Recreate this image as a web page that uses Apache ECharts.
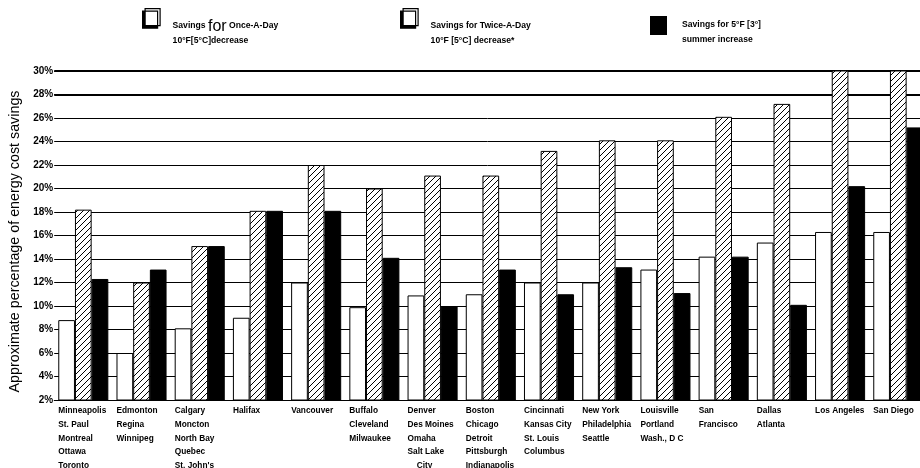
<!DOCTYPE html>
<html><head><meta charset="utf-8">
<script src="https://cdn.jsdelivr.net/npm/echarts/dist/echarts.min.js"></script>
<style>html,body{margin:0;padding:0;background:#fff}#c{width:920px;height:468px}</style>
</head><body><div id="c"></div>
<script>
// ---- data ----
const categories = [
  'Minneapolis\nSt. Paul\nMontreal\nOttawa\nToronto',
  'Edmonton\nRegina\nWinnipeg',
  "Calgary\nMoncton\nNorth Bay\nQuebec\nSt. John's",
  'Halifax',
  'Vancouver',
  'Buffalo\nCleveland\nMilwaukee',
  'Denver\nDes Moines\nOmaha\nSalt Lake\n    City',
  'Boston\nChicago\nDetroit\nPittsburgh\nIndianapolis',
  'Cincinnati\nKansas City\nSt. Louis\nColumbus',
  'New York\nPhiladelphia\nSeattle',
  'Louisville\nPortland\nWash., D C',
  'San\nFrancisco',
  'Dallas\nAtlanta',
  'Los Angeles',
  'San Diego'
];
const onceADay       = [8.8, 6.0, 8.1, 9.0, 12.0, 9.9, 10.9, 11.0, 12.0, 12.0, 13.1, 14.2, 15.4, 16.3, 16.3];
const twiceADay      = [18.2, 12.0, 15.1, 18.1, 22.0, 20.0, 21.1, 21.1, 23.2, 24.1, 24.1, 26.1, 27.2, 31.0, 31.0];
const summerIncrease = [12.3, 13.1, 15.1, 18.1, 18.1, 14.1, 10.0, 13.1, 11.0, 13.3, 11.1, 14.2, 10.1, 20.2, 25.2];
const seriesNames = [
  'Savings for Once-A-Day 10°F[5°C]decrease',
  'Savings for Twice-A-Day 10°F [5°C] decrease*',
  'Savings for 5°F [3°] summer increase'
];
const yMin = 2, yMax = 30, yStep = 2;
const thickLines = [28, 30];
const yAxisTitle = 'Approximate percentage of energy cost savings';

// ---- hatch pattern ----
function makeHatch() {
  const s = 6, cv = document.createElement('canvas');
  cv.width = s; cv.height = s;
  const ctx = cv.getContext('2d');
  ctx.fillStyle = '#fff'; ctx.fillRect(0, 0, s, s);
  ctx.strokeStyle = '#000'; ctx.lineWidth = 1;
  ctx.beginPath();
  ctx.moveTo(0, s); ctx.lineTo(s, 0);
  ctx.moveTo(-1, 1); ctx.lineTo(1, -1);
  ctx.moveTo(s - 1, s + 1); ctx.lineTo(s + 1, s - 1);
  ctx.stroke();
  return cv;
}
const hatch = { image: makeHatch(), repeat: 'repeat' };

const FONT = 'Liberation Sans, Arial, sans-serif';
const legendRich = {
  s: { fontSize: 8.6, fontWeight: 'bold', lineHeight: 15, fontFamily: FONT, color: '#000' },
  b: { fontSize: 16, lineHeight: 15, fontFamily: FONT, color: '#000' }
};
const legendText = [
  '{s|Savings }{b|for}{s| Once-A-Day}\n{s|10°F[5°C]decrease}',
  '{s|Savings for Twice-A-Day}\n{s|10°F [5°C] decrease*}',
  '{s|Savings for 5°F [3°]}\n{s|summer increase}'
];
function legendCfg(i, left, top, w, h, padTop, padLeft, white) {
  return {
    data: [{ name: seriesNames[i], icon: 'rect', itemStyle: white ? { color: '#fff' } : { color: '#000' } }],
    icon: 'rect',
    left: left, top: top, padding: 0, orient: 'horizontal',
    itemWidth: w, itemHeight: h, selectedMode: false,
    itemStyle: white ? { borderColor: '#000', borderWidth: 1.2, shadowColor: '#000', shadowOffsetX: -2.5, shadowOffsetY: 2.5, shadowBlur: 0 }
                     : { borderWidth: 0 },
    formatter: () => legendText[i],
    textStyle: { padding: [padTop, 0, 0, padLeft], rich: legendRich }
  };
}

const chart = echarts.init(document.getElementById('c'), null, { renderer: 'canvas' });
chart.setOption({
  animation: false,
  backgroundColor: '#fff',
  legend: [
    legendCfg(0, 144.5, 8, 15, 17, 33, 7.5, true),
    legendCfg(1, 402.5, 8, 15, 17, 33, 7.5, true),
    legendCfg(2, 650, 16, 17, 19, 14, 10, false)
  ],
  grid: { left: 54.2, right: -7.4, top: 71, bottom: 68, containLabel: false, outerBoundsMode: 'none' },
  xAxis: {
    type: 'category', data: categories,
    axisLine: { show: true, lineStyle: { color: '#000', width: 1 } },
    axisTick: { show: false },
    axisLabel: {
      interval: 0, margin: 4, width: 50, align: 'center', verticalAlign: 'top',
      formatter: v => v.split('\n').map(s => '{a|' + s + '}').join('\n'),
      rich: { a: { align: 'left', fontSize: 8.3, fontWeight: 'bold', lineHeight: 13.7, fontFamily: FONT, color: '#000' } }
    },
    splitLine: { show: false }
  },
  yAxis: {
    type: 'value', min: yMin, max: yMax, interval: yStep,
    name: yAxisTitle, nameLocation: 'middle', nameRotate: 90, nameGap: 23,
    nameTextStyle: { fontSize: 14.3, fontFamily: FONT, color: '#000', padding: [0, 12, 0, 0] },
    axisLine: { show: false }, axisTick: { show: false },
    axisLabel: { formatter: '{value}%', margin: 1, fontSize: 10, fontWeight: 'bold', fontFamily: FONT, color: '#000' },
    splitLine: { show: true, lineStyle: { color: '#000', width: 1 } }
  },
  series: [
    {
      name: seriesNames[0], type: 'bar', data: onceADay,
      barGap: '0%', barCategoryGap: '14%',
      itemStyle: { color: '#fff', borderColor: '#000', borderWidth: 1 },
      markLine: {
        silent: true, symbol: 'none', z: 1, label: { show: false },
        lineStyle: { color: '#000', width: 2, type: 'solid' },
        data: thickLines.map(v => ({ yAxis: v }))
      }
    },
    {
      name: seriesNames[1], type: 'bar', data: twiceADay,
      barGap: '0%', barCategoryGap: '14%',
      itemStyle: { color: hatch, borderColor: '#000', borderWidth: 1 }
    },
    {
      name: seriesNames[2], type: 'bar', data: summerIncrease,
      barGap: '0%', barCategoryGap: '14%',
      itemStyle: { color: '#000', borderColor: '#000', borderWidth: 1 }
    }
  ]
});
</script></body></html>
